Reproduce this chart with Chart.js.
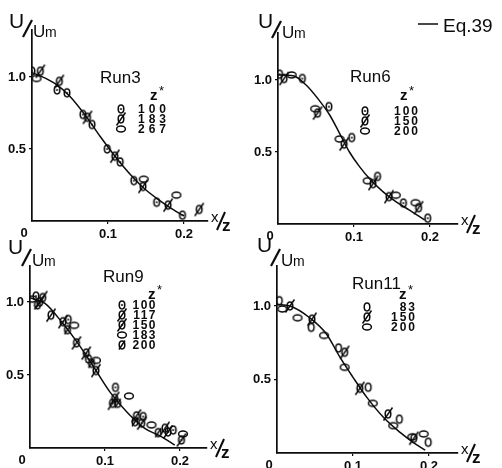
<!DOCTYPE html>
<html>
<head>
<meta charset="utf-8">
<script src="https://cdn.jsdelivr.net/npm/chart.js@4.4.1/dist/chart.umd.min.js"></script>
<style>
  html, body { margin: 0; padding: 0; background: #fff; }
  #wrap { position: relative; width: 502px; height: 468px; overflow: hidden; }
  #wrap canvas { position: absolute; }
</style>
</head>
<body>
<div id="wrap">
  <canvas id="run3" width="250" height="244" style="left:0;top:0"></canvas>
  <canvas id="run6" width="252" height="244" style="left:250px;top:0"></canvas>
  <canvas id="run9" width="250" height="234" style="left:0;top:234px"></canvas>
  <canvas id="run11" width="252" height="234" style="left:250px;top:234px"></canvas>
</div>
<script>
// ---- data: [x/z, U/Um] ----
const xTicks = [0.1, 0.2];
const yTicks = [0.5, 1.0];

// Run3
const run3_z100 = [[0.000, 1.04], [0.033, 0.91], [0.046, 0.89], [0.067, 0.74], [0.079, 0.67], [0.099, 0.50], [0.116, 0.41], [0.134, 0.28], [0.164, 0.13], [0.198, 0.04]];
const run3_z183 = [[0.011, 1.04], [0.036, 0.97], [0.073, 0.72], [0.109, 0.45], [0.146, 0.24], [0.179, 0.11], [0.220, 0.08]];
const run3_z267 = [[0.006, 0.99], [0.147, 0.29], [0.190, 0.18]];
const run3_eq39 = [[0, 1.03], [0.01, 1.01], [0.03, 0.955], [0.05, 0.865], [0.07, 0.735], [0.09, 0.585], [0.11, 0.445], [0.13, 0.32], [0.15, 0.215], [0.17, 0.135], [0.19, 0.065], [0.20, 0.035]];

// Run6
const run6_z100 = [[0.002, 1.04], [0.032, 1.01], [0.067, 0.815], [0.097, 0.60], [0.131, 0.33], [0.165, 0.145], [0.197, 0.04]];
const run6_z150 = [[0.008, 1.01], [0.052, 0.77], [0.087, 0.555], [0.125, 0.28], [0.146, 0.19], [0.185, 0.113]];
const run6_z200 = [[0.018, 1.035], [0.049, 0.80], [0.081, 0.59], [0.118, 0.30], [0.155, 0.20], [0.181, 0.148]];
const run6_eq39 = [[0, 1.035], [0.02, 1.03], [0.037, 0.965], [0.054, 0.86], [0.068, 0.757], [0.081, 0.63], [0.094, 0.50], [0.107, 0.40], [0.122, 0.305], [0.138, 0.225], [0.155, 0.155], [0.173, 0.097], [0.193, 0.028]];

// Run9
const run9_z100 = [[0.008, 1.04], [0.051, 0.88], [0.078, 0.61], [0.114, 0.415], [0.151, 0.215], [0.191, 0.123]];
const run9_z117 = [[0.013, 1.00], [0.028, 0.91], [0.062, 0.72], [0.088, 0.53], [0.113, 0.34], [0.142, 0.22], [0.180, 0.135]];
const run9_z150 = [[0.017, 1.03], [0.044, 0.865], [0.075, 0.65], [0.110, 0.306], [0.149, 0.17], [0.184, 0.11], [0.202, 0.055]];
const run9_z183 = [[0.003, 1.02], [0.059, 0.84], [0.088, 0.60], [0.132, 0.356], [0.162, 0.158], [0.204, 0.096]];
const run9_z200 = [[0.010, 0.98], [0.050, 0.81], [0.082, 0.58], [0.117, 0.306], [0.140, 0.18], [0.171, 0.105]];
const run9_eq39 = [[0, 1.03], [0.02, 0.99], [0.042, 0.865], [0.064, 0.717], [0.086, 0.546], [0.108, 0.374], [0.131, 0.237], [0.153, 0.135], [0.175, 0.078], [0.193, 0.02]];

// Run11
const run11_z83 = [[0.003, 1.036], [0.045, 0.855], [0.081, 0.714], [0.120, 0.447], [0.161, 0.23], [0.199, 0.073]];
const run11_z150 = [[0.017, 1.00], [0.046, 0.91], [0.089, 0.685], [0.109, 0.44], [0.146, 0.265], [0.180, 0.10]];
const run11_z200 = [[0.007, 0.98], [0.027, 0.92], [0.062, 0.80], [0.089, 0.583], [0.126, 0.338], [0.153, 0.186], [0.178, 0.11], [0.193, 0.13]];
const run11_eq39 = [[0, 1.01], [0.017, 1.0], [0.043, 0.92], [0.065, 0.81], [0.083, 0.65], [0.10, 0.515], [0.118, 0.38], [0.14, 0.243], [0.162, 0.14], [0.179, 0.073], [0.195, 0.02]];

const INK = '#0c0c0c';
const FONT = '"Liberation Sans", Arial, sans-serif';

// little hand-drawn style markers
function makeMarker(kind) {
    const c = document.createElement('canvas');
    c.width = 16; c.height = 16;
    const g = c.getContext('2d');
    g.strokeStyle = INK; g.fillStyle = INK; g.lineWidth = 1.5;
    g.translate(8, 8);
    g.beginPath();
    if (kind === 'flat') g.ellipse(0, 0, 4.4, 3.0, 0, 0, Math.PI * 2);
    else g.ellipse(0, 0, 2.8, 3.9, 0, 0, Math.PI * 2);
    g.stroke();
    if (kind === 'theta' || kind === 'slashDot') g.fillRect(-1.2, -0.7, 2.4, 1.4);
    if (kind === 'slash' || kind === 'slashDot') {
        g.beginPath(); g.moveTo(-4.5, 6.5); g.lineTo(4.5, -6.5); g.stroke();
    }
    if (kind === 'bar') {
        g.beginPath(); g.moveTo(-3, 4.5); g.lineTo(3, -4.5); g.stroke();
    }
    return c;
}
const markers = {};
['theta', 'slash', 'flat', 'plain', 'slashDot', 'bar'].forEach(k => { markers[k] = makeMarker(k); });

const toPts = arr => arr.map(p => ({ x: p[0], y: p[1] }));

const notesPlugin = {
    id: 'panelNotes',
    afterDraw(chart, args, o) {
        const ctx = chart.ctx;
        const a = chart.chartArea;
        ctx.save();
        ctx.fillStyle = INK; ctx.strokeStyle = INK;
        ctx.textAlign = 'left'; ctx.textBaseline = 'alphabetic';

        // U/Um
        ctx.font = '21px ' + FONT;
        ctx.fillText('U', o.ux, o.uy);
        ctx.lineWidth = 2.2;
        ctx.beginPath(); ctx.moveTo(o.ux + 14, o.umY); ctx.lineTo(o.ux + 23, o.umY - 17); ctx.stroke();
        ctx.font = '17px ' + FONT;
        ctx.fillText('U', o.ux + 24, o.umY);
        ctx.font = '14px ' + FONT;
        ctx.fillText('m', o.ux + 36, o.umY);

        // x/z
        ctx.font = '15px ' + FONT;
        ctx.fillText('x', a.right + 3, a.bottom + 1);
        ctx.lineWidth = 2;
        ctx.beginPath(); ctx.moveTo(a.right + 9, a.bottom + 9); ctx.lineTo(a.right + 17, a.bottom - 9); ctx.stroke();
        ctx.font = 'bold 17px ' + FONT;
        ctx.fillText('z', a.right + 14, a.bottom + 10);

        // origin 0
        ctx.font = 'bold 13px ' + FONT;
        ctx.textAlign = 'center';
        ctx.fillText('0', a.left - 8, a.bottom + 16);
        ctx.textAlign = 'left';

        // run title
        ctx.font = '17px ' + FONT;
        ctx.fillText(o.title, o.tx, o.ty);

        // z* header
        ctx.font = 'bold 15px ' + FONT;
        ctx.fillText('z', o.zx, o.zy);
        ctx.font = '13px ' + FONT;
        ctx.fillText('*', o.zx + 9, o.zy - 5);

        // legend rows
        ctx.font = 'bold 12px ' + FONT;
        ctx.textAlign = 'right';
        ctx.letterSpacing = o.spacing + 'px';
        o.rows.forEach((r, i) => {
            const y = o.rowY + i * o.pitch;
            const m = markers[r.m];
            ctx.drawImage(m, o.symX - m.width / 2, y - m.height / 2);
            ctx.fillText(r.t, o.numRight, y + 4);
        });
        ctx.letterSpacing = '0px';

        // Eq.39 key
        if (o.eq) {
            ctx.lineWidth = 1.5;
            ctx.beginPath(); ctx.moveTo(o.eq.x, o.eq.y); ctx.lineTo(o.eq.x + 20, o.eq.y); ctx.stroke();
            ctx.textAlign = 'left';
            ctx.font = '19px ' + FONT;
            ctx.fillText('Eq.39', o.eq.x + 25, o.eq.y + 8);
        }
        ctx.restore();
    }
};

function makePanel(id, area, xPerUnit, yPerUnit, series, curve, notes) {
    const canvas = document.getElementById(id);
    const W = canvas.width, H = canvas.height;
    const xMax = (area.right - area.left) / xPerUnit;
    const yMax = (area.bottom - area.top) / yPerUnit;
    const tickFont = { family: FONT, size: 13, weight: 'bold' };
    const squash = s => { s.paddingLeft = 0; s.paddingRight = 0; s.paddingTop = 0; s.paddingBottom = 0; };

    const datasets = series.map(s => ({
        label: s.label,
        data: toPts(s.data),
        pointStyle: markers[s.m],
        pointRadius: 5,
        showLine: false
    }));
    datasets.push({
        label: 'Eq.39',
        data: toPts(curve),
        showLine: true,
        pointRadius: 0,
        borderColor: INK,
        borderWidth: 1.5,
        cubicInterpolationMode: 'monotone'
    });

    return new Chart(canvas.getContext('2d'), {
        type: 'scatter',
        data: { datasets },
        options: {
            responsive: false,
            animation: false,
            events: [],
            layout: { padding: { left: 0, top: area.top, right: W - area.right, bottom: 0 } },
            plugins: { legend: { display: false }, tooltip: { enabled: false }, panelNotes: notes },
            scales: {
                x: {
                    type: 'linear', min: 0, max: xMax,
                    afterBuildTicks: s => { s.ticks = xTicks.map(v => ({ value: v })); },
                    afterFit: s => { s.height = H - area.bottom; squash(s); },
                    ticks: { color: INK, font: tickFont, padding: 3, maxRotation: 0, autoSkip: false, callback: v => v.toFixed(1) },
                    grid: { drawOnChartArea: false, tickLength: 3, color: INK, lineWidth: 1.2 },
                    border: { color: INK, width: 1.7 }
                },
                y: {
                    type: 'linear', min: 0, max: yMax,
                    afterBuildTicks: s => { s.ticks = yTicks.map(v => ({ value: v })); },
                    afterFit: s => { s.width = area.left; squash(s); },
                    ticks: { color: INK, font: tickFont, padding: 3, autoSkip: false, callback: v => v.toFixed(1) },
                    grid: { drawOnChartArea: false, tickLength: 3, color: INK, lineWidth: 1.2 },
                    border: { color: INK, width: 1.7 }
                }
            }
        },
        plugins: [notesPlugin]
    });
}

makePanel('run3', { left: 32, top: 30, right: 208, bottom: 221 }, 760, 144,
    [{ label: '100', m: 'theta', data: run3_z100 }, { label: '183', m: 'slash', data: run3_z183 }, { label: '267', m: 'flat', data: run3_z267 }],
    run3_eq39,
    { title: 'Run3', tx: 100, ty: 83, zx: 150, zy: 100, ux: 9, uy: 28, umY: 37,
      symX: 121, numRight: 170, rowY: 109, pitch: 10, spacing: 4,
      rows: [{ m: 'theta', t: '100' }, { m: 'slash', t: '183' }, { m: 'flat', t: '267' }] });

makePanel('run6', { left: 28, top: 33, right: 208, bottom: 224 }, 760, 144,
    [{ label: '100', m: 'theta', data: run6_z100 }, { label: '150', m: 'slash', data: run6_z150 }, { label: '200', m: 'flat', data: run6_z200 }],
    run6_eq39,
    { title: 'Run6', tx: 100, ty: 82, zx: 150, zy: 100, ux: 8, uy: 28, umY: 38,
      symX: 115, numRight: 170, rowY: 111, pitch: 10, spacing: 2,
      rows: [{ m: 'theta', t: '100' }, { m: 'slash', t: '150' }, { m: 'flat', t: '200' }],
      eq: { x: 168, y: 24 } });

makePanel('run9', { left: 30, top: 32, right: 207, bottom: 214 }, 750, 146,
    [{ label: '100', m: 'theta', data: run9_z100 }, { label: '117', m: 'slash', data: run9_z117 }, { label: '150', m: 'slashDot', data: run9_z150 },
     { label: '183', m: 'flat', data: run9_z183 }, { label: '200', m: 'bar', data: run9_z200 }],
    run9_eq39,
    { title: 'Run9', tx: 103, ty: 48, zx: 148, zy: 65, ux: 8, uy: 20, umY: 32,
      symX: 122, numRight: 157, rowY: 71, pitch: 10, spacing: 1.5,
      rows: [{ m: 'theta', t: '100' }, { m: 'slash', t: '117' }, { m: 'slashDot', t: '150' }, { m: 'flat', t: '183' }, { m: 'bar', t: '200' }] });

makePanel('run11', { left: 27, top: 32, right: 208, bottom: 219 }, 760, 147,
    [{ label: '83', m: 'plain', data: run11_z83 }, { label: '150', m: 'slash', data: run11_z150 }, { label: '200', m: 'flat', data: run11_z200 }],
    run11_eq39,
    { title: 'Run11', tx: 102, ty: 55, zx: 149, zy: 65, ux: 7, uy: 18, umY: 32,
      symX: 117, numRight: 167, rowY: 73, pitch: 10, spacing: 2,
      rows: [{ m: 'plain', t: '83' }, { m: 'slash', t: '150' }, { m: 'flat', t: '200' }] });
</script>
</body>
</html>
